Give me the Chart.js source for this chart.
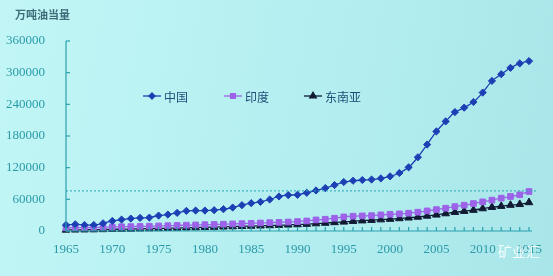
<!DOCTYPE html>
<html>
<head>
<meta charset="utf-8">
<script src="https://cdn.jsdelivr.net/npm/chart.js@4/dist/chart.umd.min.js"></script>
<style>
  html, body { margin: 0; padding: 0; }
  body { width: 553px; height: 276px; background: linear-gradient(100deg, #c2f6f6 0%, #b4eef0 55%, #a9e6e9 100%); }
  #wrap { position: relative; width: 553px; height: 276px; }
</style>
</head>
<body>
<div id="wrap"><canvas id="chart" width="553" height="276"></canvas></div>
<script>
const years = []
for (let y = 1965; y <= 2015; y++) years.push(String(y))

// 万吨油当量
const china = [
  11400, 12700, 11400, 11400, 14600, 19000, 21600, 23500, 24800, 25400,
  29200, 31100, 34300, 38100, 38700, 38700, 39400, 41300, 44400, 48900,
  52700, 55200, 59700, 65400, 68000, 68600, 72400, 76800, 81300, 87000,
  92800, 95200, 96600, 97500, 99700, 103500, 109900, 120600, 139700, 163800,
  188600, 207600, 225300, 233700, 244400, 262300, 284400, 297100, 309100, 317500,
  321900
]
const india = [
  6000, 6300, 6500, 6800, 7200, 7600, 8000, 8300, 8700, 9100,
  9600, 10100, 10600, 11100, 11500, 12000, 12400, 12900, 13400, 14000,
  14600, 15200, 15800, 16400, 17000, 17800, 19000, 21000, 22300, 24200,
  26700, 28000, 28600, 29100, 30500, 31700, 32400, 33700, 35600, 38100,
  40600, 43200, 46300, 48900, 52000, 55200, 58500, 62300, 65400, 68600,
  74900
]
const seAsia = [
  2000, 2200, 2400, 2600, 2900, 3200, 3500, 3800, 4200, 4500,
  4900, 5300, 5700, 6100, 6500, 7000, 7400, 7900, 8400, 8900,
  9400, 9900, 10400, 11000, 11600, 12200, 13000, 14000, 15000, 16200,
  17200, 18500, 19500, 20500, 21500, 22500, 23700, 25000, 26500, 28500,
  30500, 33000, 35500, 37500, 39500, 42500, 45000, 47000, 49000, 50500,
  54000
]
const refLevel = 76000
const yTicks = [0, 60000, 120000, 180000, 240000, 300000, 360000]

const axisColor = '#2b9fae'
const labelColor = '#2a9aa8'

const series = [
  { label: '中国', data: china, color: '#1c3fb4', marker: 'rectRot', size: 3.6 },
  { label: '印度', data: india, color: '#9c62e8', marker: 'rect', size: 4 },
  { label: '东南亚', data: seAsia, color: '#101a33', marker: 'triangle', size: 4.4 }
]

const extras = {
  id: 'extras',
  afterDatasetsDraw(chart) {
    const { ctx, chartArea, scales } = chart
    const yRef = scales.y.getPixelForValue(refLevel)
    ctx.save()
    // dotted reference line
    ctx.strokeStyle = '#26a6b6'
    ctx.lineWidth = 1
    ctx.setLineDash([2, 2])
    ctx.beginPath()
    ctx.moveTo(chartArea.left, yRef)
    ctx.lineTo(chartArea.right + 9, yRef)
    ctx.stroke()
    ctx.setLineDash([])

    // axes with inward ticks
    ctx.strokeStyle = axisColor
    ctx.lineWidth = 1.2
    ctx.beginPath()
    ctx.moveTo(chartArea.left, chartArea.top)
    ctx.lineTo(chartArea.left, chartArea.bottom)
    ctx.lineTo(chartArea.right + 3, chartArea.bottom)
    ctx.stroke()
    yTicks.forEach(v => {
      const p = scales.y.getPixelForValue(v)
      ctx.beginPath()
      ctx.moveTo(chartArea.left, p)
      ctx.lineTo(chartArea.left + 4, p)
      ctx.stroke()
    })
    years.forEach((yr, i) => {
      const p = scales.x.getPixelForValue(i)
      ctx.beginPath()
      ctx.moveTo(p, chartArea.bottom)
      ctx.lineTo(p, chartArea.bottom - 4)
      ctx.stroke()
    })

    // axis title
    ctx.fillStyle = '#3d6b78'
    ctx.font = 'bold 11px "Noto Sans CJK SC"'
    ctx.textBaseline = 'middle'
    ctx.textAlign = 'left'
    ctx.fillText('万吨油当量', 15, 15)

    // legend inside plot
    const legendY = 96
    const legendX = [143, 224, 304]
    ctx.font = '12px "Noto Sans CJK SC"'
    series.forEach((s, i) => {
      const x0 = legendX[i]
      ctx.strokeStyle = s.color
      ctx.fillStyle = s.color
      ctx.lineWidth = 1.3
      ctx.beginPath()
      ctx.moveTo(x0, legendY)
      ctx.lineTo(x0 + 18, legendY)
      ctx.stroke()
      Chart.helpers.drawPoint(ctx, {
        pointStyle: s.marker, radius: s.size - 0.6, borderWidth: 1, rotation: 0
      }, x0 + 9, legendY)
      ctx.fillStyle = '#1f4f78'
      ctx.fillText(s.label, x0 + 21, legendY + 1)
    })

    // watermark
    ctx.fillStyle = 'rgba(255,255,255,0.85)'
    ctx.font = '14px "Noto Sans CJK SC"'
    ctx.fillText('矿业汇', 498, 252)
    ctx.restore()
  }
}

new Chart(document.getElementById('chart'), {
  type: 'line',
  data: {
    labels: years,
    datasets: series.map(s => ({
      label: s.label,
      data: s.data,
      borderColor: s.color,
      backgroundColor: s.color,
      borderWidth: 1.3,
      pointStyle: s.marker,
      pointRadius: s.size,
      pointBorderWidth: 1,
      pointBorderColor: s.color,
      pointBackgroundColor: s.color,
      tension: 0.25,
      clip: false
    }))
  },
  options: {
    responsive: false,
    animation: false,
    layout: { padding: { left: 0, top: 41, right: 24, bottom: 0 } },
    plugins: {
      legend: { display: false },
      tooltip: { enabled: false }
    },
    scales: {
      x: {
        offset: false,
        border: { display: false },
        grid: { display: false },
        ticks: {
          autoSkip: false,
          maxRotation: 0,
          padding: 3,
          color: labelColor,
          font: { family: '"Liberation Serif"', size: 13 },
          callback: (v, i) => (Number(years[i]) % 5 === 0 ? years[i] : '')
        },
        afterFit: scale => { scale.height = 45 }
      },
      y: {
        min: 0,
        max: 360000,
        border: { display: false },
        grid: { display: false },
        afterBuildTicks: scale => { scale.ticks = yTicks.map(v => ({ value: v })) },
        ticks: {
          padding: 13,
          color: labelColor,
          font: { family: '"Liberation Serif"', size: 13 },
          callback: v => String(v)
        },
        afterFit: scale => { scale.width = 66 }
      }
    }
  },
  plugins: [extras]
})
</script>
</body>
</html>
